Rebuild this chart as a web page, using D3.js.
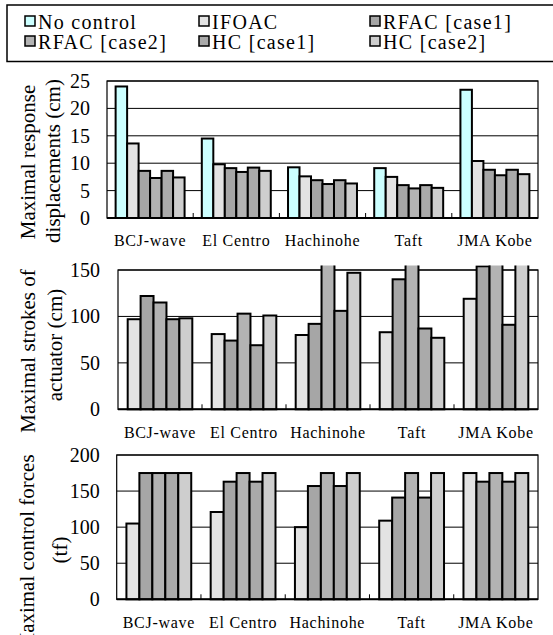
<!DOCTYPE html>
<html>
<head>
<meta charset="utf-8">
<script src="https://cdn.jsdelivr.net/npm/d3@7"></script>
<style>
  html, body { margin: 0; padding: 0; background: #fff; }
  svg { display: block; }
  svg text { fill: #000; }
</style>
</head>
<body>
<svg id="chart" width="553" height="635"></svg>
<script>
// Earthquake records (x categories)
const categories = ["BCJ-wave", "El Centro", "Hachinohe", "Taft", "JMA Kobe"];

// Control strategies
const seriesNames = ["No control", "IFOAC", "RFAC [case1]", "RFAC [case2]", "HC [case1]", "HC [case2]"];
const seriesColors = ["#ccffff", "#e3e3e3", "#a6a6a6", "#b3b3b3", "#aaaaaa", "#cecece"];

// Maximal response displacements (cm)
const dispNoControl = [24.0, 14.5, 9.25, 9.1, 23.4];
const dispIFOAC     = [13.6, 9.8, 7.6, 7.5, 10.4];
const dispRFAC1     = [8.6, 9.1, 6.9, 6.0, 8.8];
const dispRFAC2     = [7.3, 8.4, 6.2, 5.4, 7.8];
const dispHC1       = [8.6, 9.2, 6.9, 6.0, 8.8];
const dispHC2       = [7.4, 8.6, 6.3, 5.5, 8.0];

// Maximal strokes of actuator (cm); values above the axis maximum run off the top
const strokeIFOAC = [97, 81, 80, 83, 119];
const strokeRFAC1 = [122, 74, 92, 140, 154];
const strokeRFAC2 = [115, 103, 180, 185, 190];
const strokeHC1   = [97, 69, 106, 87, 91];
const strokeHC2   = [98, 101, 147, 77, 170];

// Maximal control forces (tf)
const forceIFOAC = [105, 121, 100, 109, 175];
const forceRFAC1 = [175, 163, 157, 141, 163];
const forceRFAC2 = [175, 175, 175, 175, 175];
const forceHC1   = [175, 163, 157, 141, 163];
const forceHC2   = [175, 175, 175, 175, 175];

// Axis ticks
const dispTicks = [0, 5, 10, 15, 20, 25];
const strokeTicks = [0, 50, 100, 150];
const forceTicks = [0, 50, 100, 150, 200];

const SERIF = "'Liberation Serif', 'LiberationSerif', 'Tinos', 'Times New Roman', Times, " +
  "'Nimbus Roman', 'Nimbus Roman No9 L', 'FreeSerif', 'Noto Serif', 'DejaVu Serif', 'DejaVuSerif', serif";
const svg = d3.select("#chart").style("font-family", SERIF);

// ---------- legend ----------
const legend = svg.append("g");
legend.append("rect")
  .attr("x", 7).attr("y", 5).attr("width", 570).attr("height", 56.5)
  .attr("fill", "none").attr("stroke", "#000").attr("stroke-width", 1.5);

const legendCols = [25, 199, 370];
const legendRows = [21.5, 41.5];
seriesNames.forEach((name, i) => {
  const x = legendCols[i % 3], y = legendRows[Math.floor(i / 3)];
  legend.append("rect")
    .attr("x", x).attr("y", y - 5.5).attr("width", 10).attr("height", 10)
    .attr("fill", seriesColors[i]).attr("stroke", "#000").attr("stroke-width", 1.5);
  legend.append("text")
    .attr("x", x + 13).attr("y", y + 7)
    .style("font-family", SERIF)
    .attr("font-size", 20).attr("letter-spacing", 1.3)
    .text(name);
});

// ---------- panel builder ----------
function panel(cfg) {
  const g = svg.append("g");
  const x = d3.scaleBand().domain(categories).range([cfg.left, cfg.right]).padding(0);
  const y = d3.scaleLinear().domain(cfg.domain).range([cfg.bottom, cfg.top]);
  const nSeries = cfg.series.length;
  const barW = x.bandwidth() / (nSeries + 1.5);
  const inner = d3.scaleBand().domain(d3.range(nSeries))
    .range([0, barW * nSeries]);
  const offset = (x.bandwidth() - barW * nSeries) / 2;

  // gridlines
  g.append("g").selectAll("line")
    .data(cfg.ticks.filter(t => t > cfg.domain[0]))
    .join("line")
    .attr("x1", cfg.left).attr("x2", cfg.right)
    .attr("y1", d => y(d)).attr("y2", d => y(d))
    .attr("stroke", "#000").attr("stroke-width", 1);

  // plot frame
  g.append("rect")
    .attr("x", cfg.left).attr("y", cfg.top)
    .attr("width", cfg.right - cfg.left).attr("height", cfg.bottom - cfg.top)
    .attr("fill", "none").attr("stroke", "#000").attr("stroke-width", 1.2);

  // bars, clipped a little above the plot top
  const clipId = "clip" + cfg.id;
  svg.append("clipPath").attr("id", clipId).append("rect")
    .attr("x", cfg.left - 5).attr("y", cfg.top - 4.5)
    .attr("width", cfg.right - cfg.left + 10).attr("height", cfg.bottom - cfg.top + 10);

  const bars = g.append("g").attr("clip-path", `url(#${clipId})`);
  cfg.series.forEach((vals, si) => {
    bars.append("g").selectAll("rect")
      .data(vals.map((v, ci) => ({ cat: categories[ci], v })))
      .join("rect")
      .attr("x", d => x(d.cat) + offset + inner(si))
      .attr("width", barW)
      .attr("y", d => y(d.v))
      .attr("height", d => y(0) - y(d.v))
      .attr("fill", cfg.colors[si])
      .attr("stroke", "#000").attr("stroke-width", 2);
  });

  // baseline
  g.append("line")
    .attr("x1", cfg.left).attr("x2", cfg.right)
    .attr("y1", y(0)).attr("y2", y(0))
    .attr("stroke", "#000").attr("stroke-width", 2);

  // category separators (inside ticks)
  g.append("g").selectAll("line")
    .data(categories.slice(1))
    .join("line")
    .attr("x1", d => x(d)).attr("x2", d => x(d))
    .attr("y1", y(0)).attr("y2", y(0) - 5)
    .attr("stroke", "#000").attr("stroke-width", 1);

  // y axis labels
  const yAxis = d3.axisLeft(y).tickValues(cfg.ticks).tickSize(0).tickPadding(cfg.tickPad);
  const ya = g.append("g").attr("transform", `translate(${cfg.left},0)`).call(yAxis)
    .attr("font-family", null).attr("font-size", 20);
  ya.select(".domain").remove();
  ya.selectAll("text").attr("fill", "#000").style("font-family", SERIF);

  // x axis labels
  const xAxis = d3.axisBottom(x).tickSize(0).tickPadding(cfg.labelPad);
  const xa = g.append("g").attr("transform", `translate(0,${cfg.bottom})`).call(xAxis)
    .attr("font-family", null).attr("font-size", 16);
  xa.select(".domain").remove();
  xa.selectAll("text").attr("letter-spacing", 0.7).attr("fill", "#000").style("font-family", SERIF);

  // y title (two lines, rotated)
  cfg.title.forEach(t => {
    g.append("text")
      .attr("transform", `translate(${t.x},${t.y}) rotate(-90)`)
      .attr("text-anchor", "middle").attr("dominant-baseline", "central")
      .style("font-family", SERIF)
      .attr("font-size", 21)
      .text(t.text);
  });
}

panel({
  id: 1, left: 107, right: 538, top: 81, bottom: 218,
  domain: [0, 25], ticks: dispTicks, tickPad: 17, labelPad: 17,
  series: [dispNoControl, dispIFOAC, dispRFAC1, dispRFAC2, dispHC1, dispHC2],
  colors: seriesColors,
  title: [
    { text: "Maximal response", x: 28, y: 162 },
    { text: "displacements (cm)", x: 53, y: 161 }
  ]
});

panel({
  id: 2, left: 118, right: 538, top: 270, bottom: 409.3,
  domain: [0, 150], ticks: strokeTicks, tickPad: 18, labelPad: 17,
  series: [strokeIFOAC, strokeRFAC1, strokeRFAC2, strokeHC1, strokeHC2],
  colors: seriesColors.slice(1),
  title: [
    { text: "Maximal strokes of", x: 28, y: 351 },
    { text: "actuator (cm)", x: 55, y: 345 }
  ]
});

panel({
  id: 3, left: 116.7, right: 538, top: 455, bottom: 599.3,
  domain: [0, 200], ticks: forceTicks, tickPad: 17, labelPad: 17,
  series: [forceIFOAC, forceRFAC1, forceRFAC2, forceHC1, forceHC2],
  colors: seriesColors.slice(1),
  title: [
    { text: "Maximal control forces", x: 27, y: 553 },
    { text: "(tf)", x: 60, y: 550 }
  ]
});
</script>
</body>
</html>
